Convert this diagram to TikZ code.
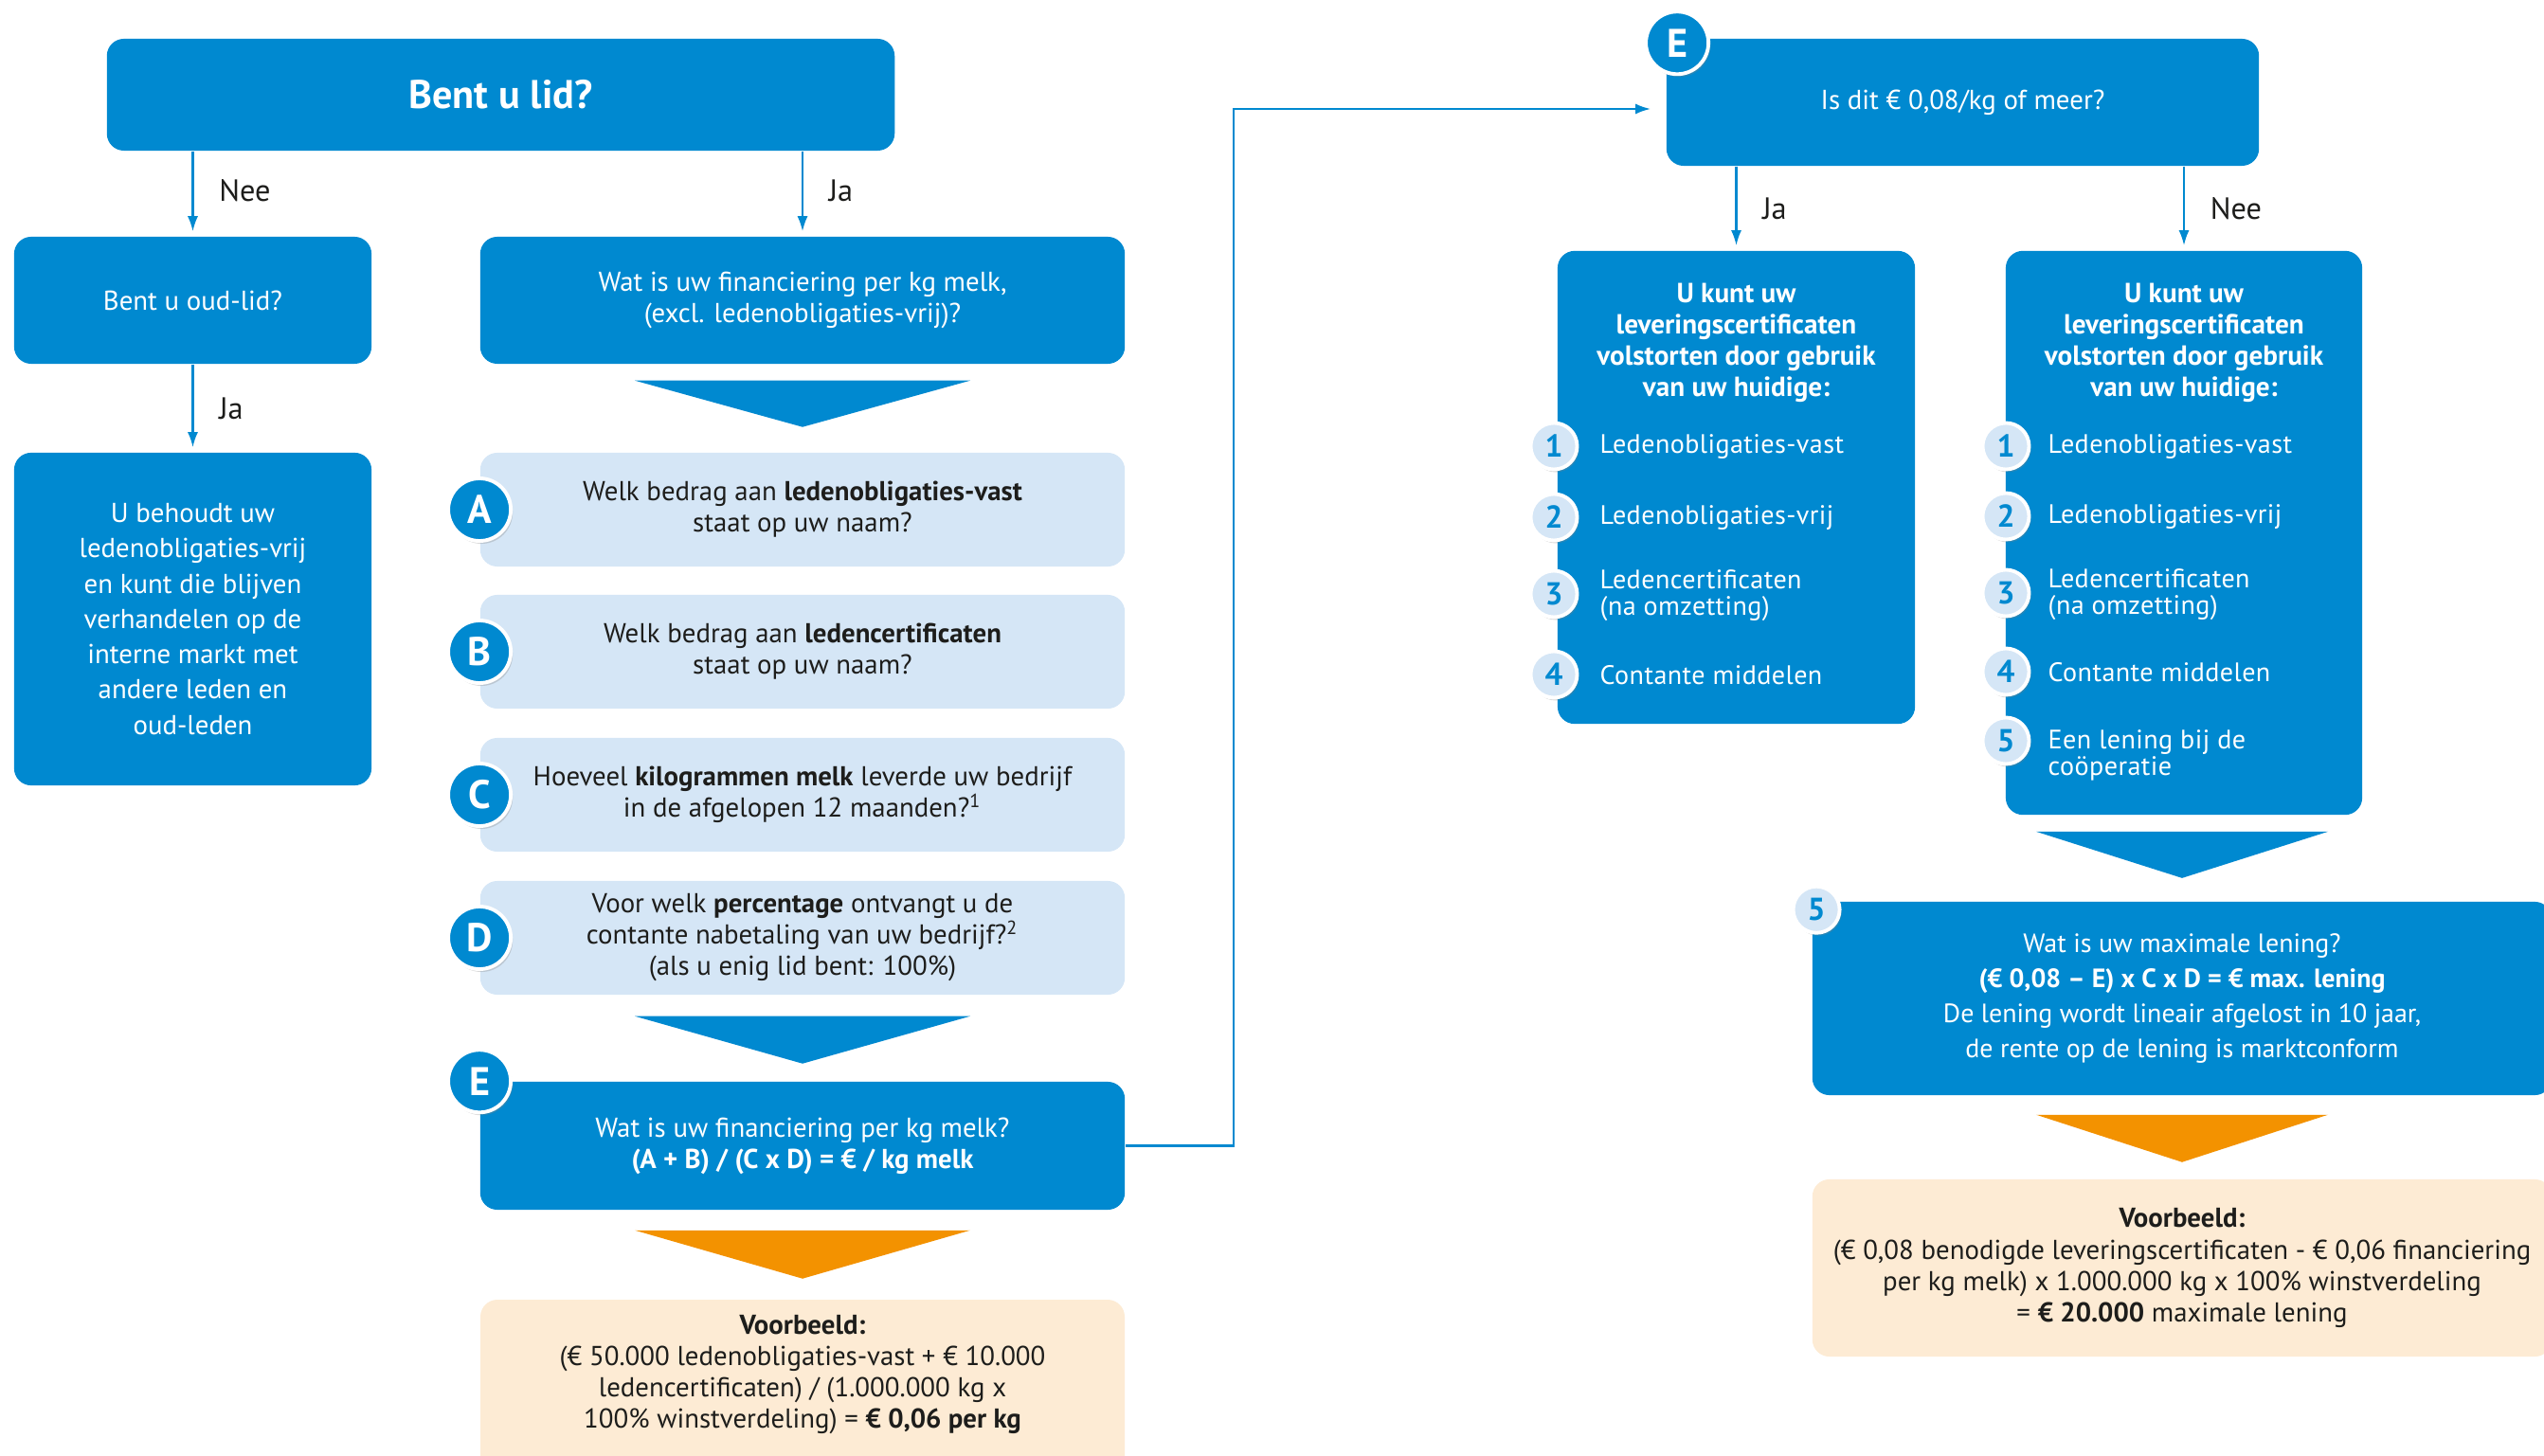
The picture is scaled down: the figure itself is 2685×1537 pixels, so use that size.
\documentclass[tikz,border=0pt]{standalone}
\usepackage{fontspec}
\setmainfont{PT Sans}
\usepackage{tikz}
\usetikzlibrary{shapes,arrows,arrows.meta,shadows,calc}
\usetikzlibrary{positioning}

\definecolor{clrBlue}{RGB}{0,137,208}
\definecolor{clrLight}{RGB}{213,230,246}
\definecolor{clrOrange}{RGB}{243,146,0}
\definecolor{clrCream}{RGB}{253,235,212}
\definecolor{clrFnt}{RGB}{29,29,27}

\tikzstyle{box_style0}=[rounded corners=0.18cm, anchor=center, text centered, align=center,
font=\fontsize{8.2}{9.4}\selectfont]
\tikzstyle{box_blue}=[box_style0, fill=clrBlue, text=white]
\tikzstyle{box_light}=[box_style0, fill=clrLight, text=clrFnt, minimum width=6.80cm, minimum height=1.20cm]
\tikzstyle{box_cream}=[box_style0, fill=clrCream, text=clrFnt]
\tikzstyle{badge}=[circle, draw=white, line width=1.1pt, fill=clrBlue, text=white, inner sep=0pt,
font=\fontsize{12}{12}\selectfont\bfseries, minimum size=0.66cm,
drop shadow={opacity=0.3, shadow xshift=0.02cm, shadow yshift=-0.03cm}]
\tikzstyle{numbadge}=[badge, fill=clrLight, text=clrBlue, font=\fontsize{9.5}{9.5}\selectfont\bfseries, minimum size=0.49cm]
\tikzstyle{item}=[anchor=west, align=left, text=white, inner sep=0pt,
font=\fontsize{8.0}{7.9}\selectfont\addfontfeature{LetterSpace=1.5}]
\tikzstyle{title}=[align=center, text=white, inner sep=0pt,
font=\fontsize{8.3}{9.4}\selectfont\bfseries]
\tikzstyle{myarrow}=[-{Latex[length=1.6mm,width=1.1mm]}, draw=clrBlue, line width=0.6pt, shorten >=0.05cm]
\tikzstyle{lbl}=[text=clrFnt, font=\fontsize{9.2}{9.2}\selectfont]

\begin{document}
\begin{tikzpicture}[x=0.01cm, y=-0.01cm]
		\clip (0,0) rectangle (2685,1537);

		% linker kolom
		\node[box_blue, minimum width=8.31cm, minimum height=1.18cm, font=\fontsize{12}{12}\selectfont\bfseries] (lid) at (528.5,100) {Bent u lid?} ;

		\node[box_blue, minimum width=3.77cm, minimum height=1.34cm] (oud) at (203.5,317) {Bent u oud-lid?} ;
		\draw[myarrow] (lid.south -| oud.north) -- node[lbl, midway, right=0.15cm, yshift=0.03cm] (neeA) {Nee} (oud.north) ;

		\node[box_blue, minimum width=3.77cm, minimum height=3.51cm, font=\fontsize{8.2}{10.6}\selectfont] (behoud) at (203.5,653.5) {U behoudt uw\\ledenobligaties-vrij\\en kunt die blijven\\verhandelen op de\\interne markt met\\andere leden en\\oud-leden} ;
		\draw[myarrow] (oud.south) -- node[lbl, midway, right=0.15cm] (jaA) {Ja} (behoud.north) ;

		% vragen A t/m E
		\node[box_blue, minimum width=6.80cm, minimum height=1.34cm] (fin) at (847,317) {Wat is uw financiering per kg melk,\\(excl. ledenobligaties-vrij)?} ;
		\draw[myarrow] (lid.south -| fin.north) -- node[lbl, midway, right=0.15cm, yshift=0.03cm] (jaB) {Ja} (fin.north) ;
		\fill[clrBlue] ($(fin.south)+(-177,17)$) -- ++(354,0) -- ($(fin.south)+(0,66)$) -- cycle ;

		\node[box_light] (A) at (847,538) {Welk bedrag aan \textbf{ledenobligaties-vast}\\staat op uw naam?} ;
		\node[box_light] (B) at (847,688) {Welk bedrag aan \textbf{ledencertificaten}\\staat op uw naam?} ;
		\node[box_light] (C) at (847,839) {Hoeveel \textbf{kilogrammen melk} leverde uw bedrijf\\in de afgelopen 12 maanden?\textsuperscript{1}} ;
		\node[box_light] (D) at (847,990) {Voor welk \textbf{percentage} ontvangt u de\\contante nabetaling van uw bedrijf?\textsuperscript{2}\\(als u enig lid bent: 100\%)} ;
		\node[badge] (bA) at (A.west) {A} ;
		\node[badge] (bB) at (B.west) {B} ;
		\node[badge] (bC) at (C.west) {C} ;
		\node[badge] (bD) at (D.west) {D} ;
		\fill[clrBlue] ($(D.south)+(-177,22)$) -- ++(354,0) -- ($(D.south)+(0,72)$) -- cycle ;

		\node[box_blue, minimum width=6.80cm, minimum height=1.35cm] (E) at (847,1209.5) {Wat is uw financiering per kg melk?\\\textbf{(A + B) / (C x D) = € / kg melk}} ;
		\node[badge] (bE) at (E.north west) {E} ;
		\fill[clrOrange] ($(E.south)+(-177,21)$) -- ++(354,0) -- ($(E.south)+(0,72)$) -- cycle ;

		\fill[clrCream, rounded corners=0.18cm] (507,1372) rectangle (1187,1600) ;
		\node[box_cream, fill=none] (vbA) at (847,1451) {\textbf{Voorbeeld:}\\(€ 50.000 ledenobligaties-vast + € 10.000\\ledencertificaten) / (1.000.000 kg x\\100\% winstverdeling) = \textbf{€ 0,06 per kg}} ;

		% rechter kolom
		\node[box_blue, minimum width=6.25cm, minimum height=1.34cm] (E2) at (2071.5,108) {Is dit € 0,08/kg of meer?} ;
		\node[badge] (bE2) at ([xshift=0.12cm, yshift=-0.05cm]E2.north west) {E} ;
		\draw[myarrow, shorten >=0.16cm] (E.east) -- ++(114,0) |- ([yshift=-0.07cm]E2.west) ;

		\node[box_blue, minimum width=3.77cm, minimum height=4.99cm] (ja) at (1832.5,514.5) {} ;
		\node[box_blue, minimum width=3.76cm, minimum height=5.95cm] (nee) at (2305,562.5) {} ;
		\draw[myarrow] (E2.south -| ja.north) -- node[lbl, midway, right=0.15cm] (jaC) {Ja} (ja.north) ;
		\draw[myarrow] (E2.south -| nee.north) -- node[lbl, midway, right=0.15cm] (neeC) {Nee} (nee.north) ;

		\node[title] (jaT) at (1832.5,362) {U kunt uw\\leveringscertificaten\\volstorten door gebruik\\van uw huidige:} ;
		\node[numbadge] (j1) at (1640,471) {1} ;
		\node[numbadge] (j2) at (1640,546) {2} ;
		\node[numbadge] (j3) at (1640,627) {3} ;
		\node[numbadge] (j4) at (1640,712) {4} ;
		\node[item] (jt1) at (1688,472) {Ledenobligaties-vast} ;
		\node[item] (jt2) at (1688,547) {Ledenobligaties-vrij} ;
		\node[item] (jt3) at (1688,629) {Ledencertificaten\\(na omzetting)} ;
		\node[item] (jt4) at (1688,713) {Contante middelen} ;

		\node[title] (neeT) at (2305,362) {U kunt uw\\leveringscertificaten\\volstorten door gebruik\\van uw huidige:} ;
		\node[numbadge] (n1) at (2117,471) {1} ;
		\node[numbadge] (n2) at (2117,545) {2} ;
		\node[numbadge] (n3) at (2117,626) {3} ;
		\node[numbadge] (n4) at (2117,709) {4} ;
		\node[numbadge] (n5) at (2117,782) {5} ;
		\node[item] (nt1) at (2161,472) {Ledenobligaties-vast} ;
		\node[item] (nt2) at (2161,546) {Ledenobligaties-vrij} ;
		\node[item] (nt3) at (2161,628) {Ledencertificaten\\(na omzetting)} ;
		\node[item] (nt4) at (2161,710) {Contante middelen} ;
		\node[item] (nt5) at (2161,797) {Een lening bij de\\coöperatie} ;
		\fill[clrBlue] ($(nee.south)+(-156,17)$) -- ++(308,0) -- ($(nee.south)+(-2,66)$) -- cycle ;

		\node[box_blue, minimum width=7.80cm, minimum height=2.04cm, font=\fontsize{7.95}{10.6}\selectfont] (max) at (2303,1054) {Wat is uw maximale lening?\\\textbf{(€ 0,08 – E) x C x D = € max. lening}\\De lening wordt lineair afgelost in 10 jaar,\\de rente op de lening is marktconform} ;
		\node[numbadge] (b5) at ([xshift=0.05cm, yshift=-0.09cm]max.north west) {5} ;
		\fill[clrOrange] ($(max.south)+(-154,20)$) -- ++(308,0) -- ($(max.south)+(0,70)$) -- cycle ;

		\node[box_cream, minimum width=7.80cm, minimum height=1.87cm] (vbB) at (2303,1338.5) {\textbf{Voorbeeld:}\\(€ 0,08 benodigde leveringscertificaten - € 0,06 financiering\\per kg melk) x 1.000.000 kg x 100\% winstverdeling\\= \textbf{€ 20.000} maximale lening} ;
\end{tikzpicture}
\end{document}
